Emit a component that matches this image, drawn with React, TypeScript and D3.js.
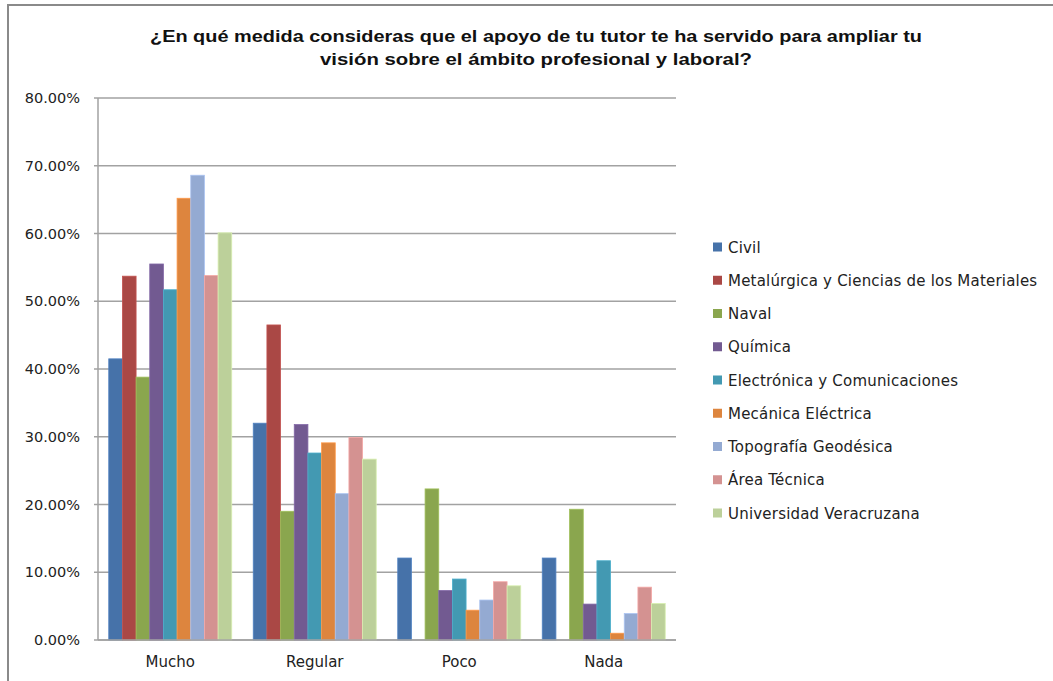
import React from "react";
import * as d3 from "d3";

const categories = ["Mucho", "Regular", "Poco", "Nada"];
const seriesNames = [
  "Civil",
  "Metalúrgica y Ciencias de los Materiales",
  "Naval",
  "Química",
  "Electrónica y Comunicaciones",
  "Mecánica Eléctrica",
  "Topografía Geodésica",
  "Área Técnica",
  "Universidad Veracruzana",
];
const civil = [41.5, 32.0, 12.1, 12.1];
const metalurgica = [53.7, 46.5, 0, 0];
const naval = [38.8, 19.0, 22.3, 19.3];
const quimica = [55.5, 31.8, 7.3, 5.3];
const electronica = [51.7, 27.6, 9.0, 11.7];
const mecanica = [65.2, 29.1, 4.4, 1.0];
const topografia = [68.6, 21.6, 5.9, 3.9];
const areaTecnica = [53.8, 29.9, 8.6, 7.8];
const universidad = [60.1, 26.7, 8.0, 5.4];
const seriesValues = [civil, metalurgica, naval, quimica, electronica, mecanica, topografia, areaTecnica, universidad];
const colors = ["#4672A9", "#AA4845", "#8AA64E", "#725A91", "#4399B2", "#DD853E", "#94AAD2", "#D49291", "#BCD09A"];
const yTicks = [0, 10, 20, 30, 40, 50, 60, 70, 80];
const titleLines = [
  "¿En qué medida consideras que el apoyo de tu tutor te ha servido para ampliar tu",
  "visión sobre el ámbito profesional y laboral?",
];

export default function App() {
  const W = 1053, H = 681;
  const plotL = 98, plotR = 676, plotT = 98, plotB = 640;
  const x = d3.scaleBand<string>().domain(categories).range([plotL, plotR]).paddingInner(0).paddingOuter(0);
  const gap = 21.5;
  const xs = d3.scaleBand<string>().domain(seriesNames).range([gap / 2, x.bandwidth() - gap / 2]).padding(0);
  const y = d3.scaleLinear().domain([0, 80]).range([plotB, plotT]);
  const font = "'DejaVu Sans', sans-serif";
  return (
    <svg width={W} height={H} style={{ position: "absolute", left: 0, top: 0, background: "#fff" }}>
      <rect x={0} y={0} width={W} height={H} fill="#fff" />
      <line x1={8} x2={W} y1={5} y2={5} stroke="#8a8a8a" strokeWidth={2} />
      <line x1={8} x2={8} y1={4} y2={H} stroke="#8a8a8a" strokeWidth={2} />
      {titleLines.map((t, i) => (
        <text key={i} x={536} y={42 + i * 23} textAnchor="middle" fontFamily="'Liberation Sans', Arial, sans-serif"
          fontWeight="bold" fontSize={16.5} fill="#111"
          textLength={i === 0 ? 772 : 432} lengthAdjust="spacingAndGlyphs">{t}</text>
      ))}
      {yTicks.map((t) => (
        <g key={t}>
          <line x1={plotL - 4} x2={plotR} y1={y(t)} y2={y(t)} stroke="#a2a2a2" strokeWidth={1.5} />
          <text x={80} y={y(t) + 5} textAnchor="end" fontFamily={font} fontSize={14.5} fill="#222">
            {t.toFixed(2) + "%"}
          </text>
        </g>
      ))}
      <line x1={plotL} x2={plotL} y1={plotT} y2={plotB} stroke="#a2a2a2" strokeWidth={1.5} />
      {categories.map((c, ci) => (
        <g key={c} transform={`translate(${x(c)},0)`}>
          {seriesNames.map((s, si) => {
            const v = seriesValues[si][ci];
            if (v <= 0) return null;
            return (
              <rect key={s} x={xs(s)} y={y(v)} width={xs.bandwidth()} height={plotB - y(v)}
                fill={colors[si]} stroke={d3.color(colors[si])!.brighter(0.4).formatHex()} strokeWidth={0.8} />
            );
          })}
          <text x={x.bandwidth() / 2} y={667} textAnchor="middle" fontFamily={font} fontSize={15} fill="#222">{c}</text>
        </g>
      ))}
      <line x1={plotL} x2={plotR} y1={plotB} y2={plotB} stroke="#a2a2a2" strokeWidth={1.5} />
      {seriesNames.map((s, i) => (
        <g key={s} transform={`translate(713, ${247 + i * 33.25})`}>
          <rect x={0} y={-4.5} width={9} height={9} fill={colors[i]} />
          <text x={15} y={5.5} fontFamily={font} fontSize={15} letterSpacing={0.2} fill="#222">{s}</text>
        </g>
      ))}
    </svg>
  );
}
